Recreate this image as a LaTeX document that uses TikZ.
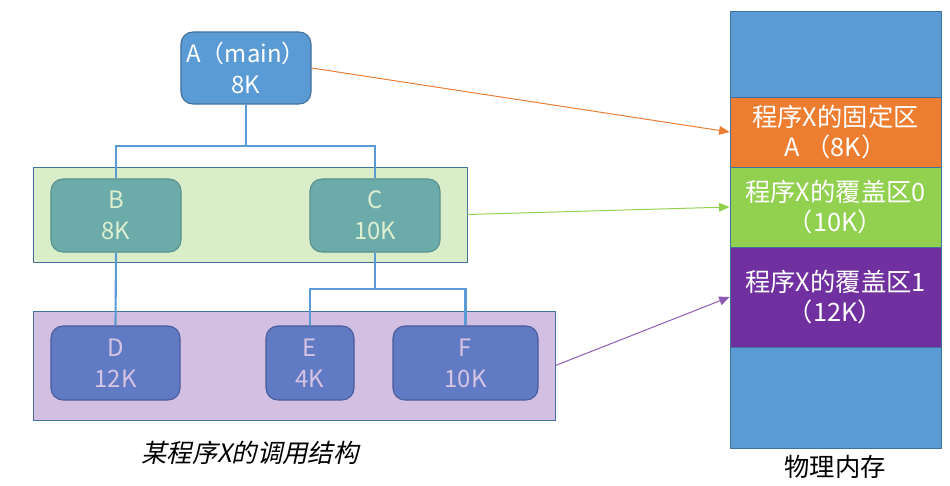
\documentclass[tikz,border=0pt]{standalone}
\usepackage{fontspec}
\newfontfamily\cjk{Noto Sans CJK SC}
\newfontfamily\cjkslant[FakeSlant=0.22]{Noto Sans CJK SC}
\usepackage{tikz}
\usetikzlibrary{arrows.meta, positioning, calc}

\definecolor{boxblue}{HTML}{5B9BD5}
\definecolor{edgeblue}{HTML}{41719C}
\definecolor{bandgreen}{HTML}{DAEDC9}
\definecolor{bandpurple}{HTML}{D3BFE1}
\definecolor{teal}{HTML}{6BABA9}
\definecolor{tealedge}{HTML}{5A918E}
\definecolor{tealtext}{HTML}{DDEFD0}
\definecolor{modblue}{HTML}{617AC4}
\definecolor{modedge}{HTML}{4A5E9E}
\definecolor{modtext}{HTML}{D6C4E4}
\definecolor{memorange}{HTML}{ED7D31}
\definecolor{memgreen}{HTML}{92D050}
\definecolor{mempurple}{HTML}{7030A0}

\begin{document}
\begin{tikzpicture}[x=0.025cm, y=-0.025cm,
  module/.style={rounded corners=0.3cm, line width=0.8pt, align=center,
    font=\cjk\fontsize{17}{22}\selectfont, inner sep=0pt},
  band/.style={draw=edgeblue, line width=0.6pt, inner sep=0pt},
  region/.style={draw=edgeblue, line width=0.6pt, text=white, align=center,
    minimum width=5.275cm, inner sep=0pt, font=\cjk\fontsize{18}{22}\selectfont},
  link/.style={boxblue, line width=1.5pt},
  load/.style={line width=0.7pt, -{Triangle[length=2.6mm, width=2.2mm]}}]
  \useasboundingbox (0,0) rectangle (950,486);

  % Bandes des niveaux
  \node[band, fill=bandgreen, minimum width=10.85cm, minimum height=2.375cm] (lvlB) at (250,214.5) {};
  \node[band, fill=bandpurple, minimum width=13.05cm, minimum height=2.725cm] (lvlD) at (294,365.5) {};

  % Modules
  \node[module, draw=edgeblue, fill=boxblue, text=white, minimum width=3.25cm, minimum height=1.8cm] (A) at (246,68) {A（main）\\8K};
  \node[module, draw=tealedge, fill=teal, text=tealtext, minimum width=3.25cm, minimum height=1.825cm] (B) at (116,215.5) {B\\8K};
  \node[module, draw=tealedge, fill=teal, text=tealtext, minimum width=3.25cm, minimum height=1.825cm] (C) at (375,215.5) {C\\10K};
  \node[module, draw=modedge, fill=modblue, text=modtext, minimum width=3.225cm, minimum height=1.85cm] (D) at (115.5,363) {D\\12K};
  \node[module, draw=modedge, fill=modblue, text=modtext, minimum width=2.2cm, minimum height=1.85cm] (E) at (310,363) {E\\4K};
  \node[module, draw=modedge, fill=modblue, text=modtext, minimum width=3.625cm, minimum height=1.85cm] (F) at (465.5,363) {F\\10K};

  % Liaisons d'appel
  \draw[link] (A.south) -- ++(0,41) coordinate (splitA);
  \draw[link] (splitA) -| (B.north);
  \draw[link] (splitA) -| (C.north);
  \draw[link] (B.south) -- (D.north);
  \draw[link] (C.south) -- ++(0,36) coordinate (splitC);
  \draw[link] (splitC) -| (E.north);
  \draw[link] (splitC) -| (F.north);

  \node[font=\cjkslant\fontsize{18}{22}\selectfont] (caption) at (250,453) {某程序X的调用结构};

  % Memoire physique
  \node[region, fill=boxblue, minimum height=10.925cm] (mem) at (835.5,229.5) {};
  \node[region, fill=memorange, minimum height=1.75cm] (fixed) at (835.5,132) {程序X的固定区\\A （8K）};
  \node[region, fill=memgreen, minimum height=2cm] (ovl0) at (835.5,207) {程序X的覆盖区0\\（10K）};
  \node[region, fill=mempurple, minimum height=2.5cm] (ovl1) at (835.5,297) {程序X的覆盖区1\\（12K）};
  \node[font=\cjk\fontsize{18}{22}\selectfont] (memlabel) at (835,467) {物理内存};

  % Chargement
  \draw[load, memorange] (A.east) -- (fixed.west);
  \draw[load, memgreen] (lvlB.east) -- (ovl0.west);
  \draw[load, mempurple!80] (lvlD.east) -- (ovl1.west);
\end{tikzpicture}
\end{document}
